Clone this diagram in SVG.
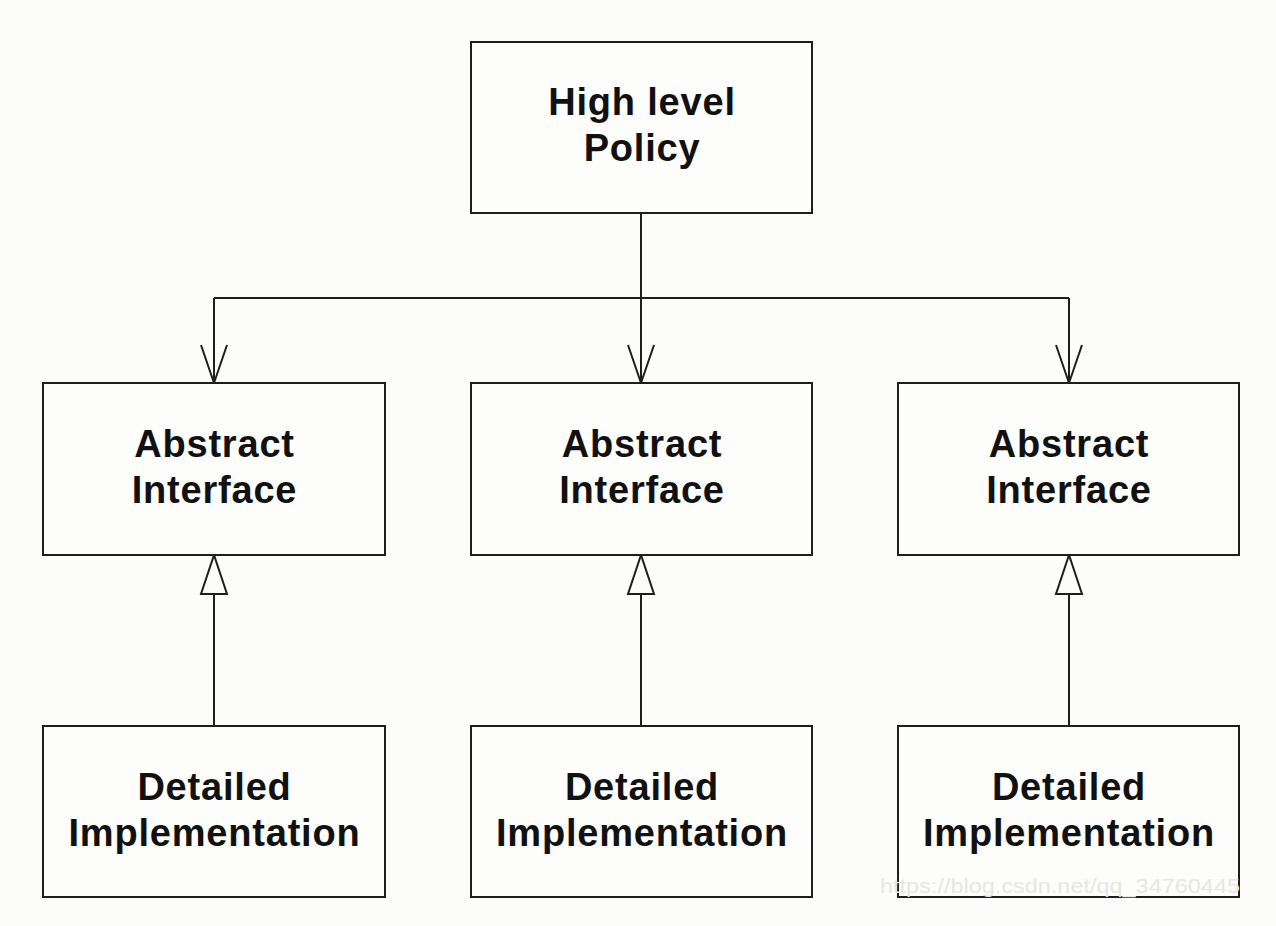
<svg xmlns="http://www.w3.org/2000/svg" width="1276" height="926" viewBox="0 0 1276 926">
<defs>
<style>
.box{fill:#fdfdfb;stroke:#1e1e1e;stroke-width:2}
.t{font-family:"Liberation Sans",Arial,sans-serif;font-weight:bold;font-size:38px;letter-spacing:0.8px;fill:#111;text-anchor:middle}
.ln{fill:none;stroke:#1e1e1e;stroke-width:2}
.wm{font-family:"Liberation Sans",Arial,sans-serif;font-size:21px;fill:#e6e6e6}
</style>
</defs>
<rect width="1276" height="926" fill="#fcfcfa"/>
<g id="connectors">
<path class="ln" d="M641,213 V298"/>
<path class="ln" d="M214,298 H1069"/>
<path class="ln" d="M214,298 V383 M201,345 L214,383 L227,345"/>
<path class="ln" d="M641,298 V383 M628,345 L641,383 L654,345"/>
<path class="ln" d="M1069,298 V383 M1056,345 L1069,383 L1082,345"/>
<path class="ln" d="M214,726 V594"/>
<path class="ln" d="M641,726 V594"/>
<path class="ln" d="M1069,726 V594"/>
<polygon class="ln" points="214,555 201,594 227,594" fill="#fdfdfb"/>
<polygon class="ln" points="641,555 628,594 654,594" fill="#fdfdfb"/>
<polygon class="ln" points="1069,555 1056,594 1082,594" fill="#fdfdfb"/>
</g>
<g id="high">
<rect class="box" x="471" y="42" width="341" height="171"/>
<text class="t" x="642" y="115">High level</text>
<text class="t" x="642" y="161">Policy</text>
</g>
<g id="abs1">
<rect class="box" x="43" y="383" width="342" height="172"/>
<text class="t" x="214.5" y="457">Abstract</text>
<text class="t" x="214.5" y="503">Interface</text>
</g>
<g id="abs2">
<rect class="box" x="471" y="383" width="341" height="172"/>
<text class="t" x="642" y="457">Abstract</text>
<text class="t" x="642" y="503">Interface</text>
</g>
<g id="abs3">
<rect class="box" x="898" y="383" width="341" height="172"/>
<text class="t" x="1069" y="457">Abstract</text>
<text class="t" x="1069" y="503">Interface</text>
</g>
<g id="det1">
<rect class="box" x="43" y="726" width="342" height="171"/>
<text class="t" x="214.5" y="800">Detailed</text>
<text class="t" x="214.5" y="846">Implementation</text>
</g>
<g id="det2">
<rect class="box" x="471" y="726" width="341" height="171"/>
<text class="t" x="642" y="800">Detailed</text>
<text class="t" x="642" y="846">Implementation</text>
</g>
<g id="det3">
<rect class="box" x="898" y="726" width="341" height="171"/>
<text class="t" x="1069" y="800">Detailed</text>
<text class="t" x="1069" y="846">Implementation</text>
</g>
<text class="wm" x="880" y="893" textLength="360" lengthAdjust="spacingAndGlyphs">https://blog.csdn.net/qq_34760445</text>
</svg>
